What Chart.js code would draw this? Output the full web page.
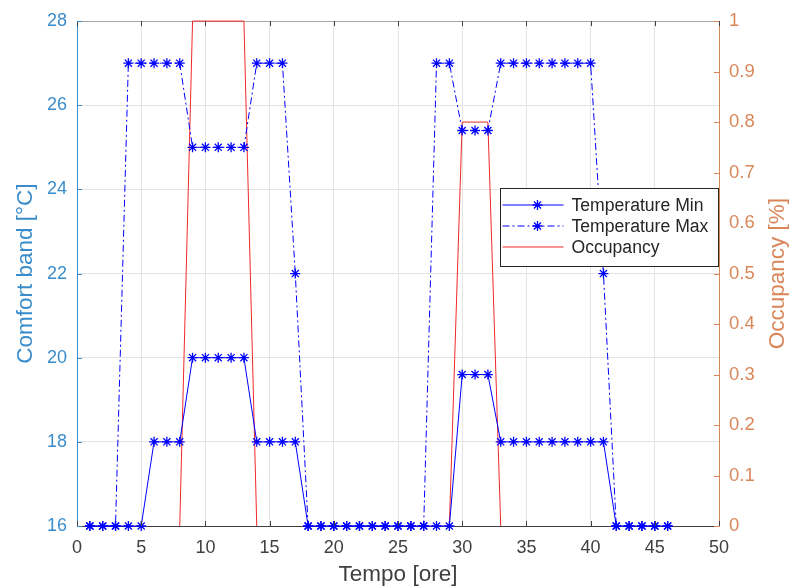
<!DOCTYPE html>
<html>
<head>
<meta charset="utf-8">
<title>Comfort band</title>
<script src="https://cdn.jsdelivr.net/npm/chart.js@4.4.1/dist/chart.umd.min.js"></script>
<style>
  html, body { margin: 0; padding: 0; background: #fff; }
  #wrap { width: 798px; height: 588px; }
</style>
</head>
<body>
<div id="wrap"><canvas id="chart" width="798" height="588"></canvas></div>
<script>
// hourly comfort band set points and occupancy
const hours = [1, 2, 3, 4, 5, 6, 7, 8, 9, 10, 11, 12, 13, 14, 15, 16, 17, 18, 19, 20, 21, 22, 23,
               24, 25, 26, 27, 28, 29, 30, 31, 32, 33, 34, 35, 36, 37, 38, 39, 40, 41, 42, 43, 44, 45, 46];
const tempMin = [16, 16, 16, 16, 16, 18, 18, 18, 20, 20, 20, 20, 20, 18, 18, 18, 18, 16, 16, 16, 16, 16, 16,
                 16, 16, 16, 16, 16, 16, 19.6, 19.6, 19.6, 18, 18, 18, 18, 18, 18, 18, 18, 18, 16, 16, 16, 16, 16];
const tempMax = [16, 16, 16, 27, 27, 27, 27, 27, 25, 25, 25, 25, 25, 27, 27, 27, 22, 16, 16, 16, 16, 16, 16,
                 16, 16, 16, 16, 27, 27, 25.4, 25.4, 25.4, 27, 27, 27, 27, 27, 27, 27, 27, 22, 16, 16, 16, 16, 16];
// occupancy only plotted around the occupied periods
const occupancy = [null, null, null, null, null, null, null, 0, 1, 1, 1, 1, 1, 0, null, null, null, null, null, null, null,
                   null, null, null, null, null, null, null, 0, 0.8, 0.8, 0.8, 0, null, null, null, null, null, null,
                   null, null, null, null, null, null, null];

const xTicks = [0, 5, 10, 15, 20, 25, 30, 35, 40, 45, 50];
const leftTicks = [16, 18, 20, 22, 24, 26, 28];
const rightTicks = [0, 0.1, 0.2, 0.3, 0.4, 0.5, 0.6, 0.7, 0.8, 0.9, 1];

const seriesNames = ['Temperature Min', 'Temperature Max', 'Occupancy'];
const xTitle = 'Tempo [ore]';
const leftTitle = 'Comfort band [°C]';
const rightTitle = 'Occupancy [%]';

const FONT = '"Liberation Sans", Arial, Helvetica, sans-serif';
const LEFT_COL = '#3a8dca';
const RIGHT_COL = '#d9875a';
const AXIS_COL = '#404040';
const GRID_COL = '#e4e4e4';
const BLUE = '#0000ff';
const RED = '#f02828';

// line look per series, shared by the datasets and the legend box
const styles = [
  { color: BLUE, dash: [], marker: true },
  { color: BLUE, dash: [7, 3, 2, 3], marker: true },
  { color: RED, dash: [], marker: false }
];
const MARKER_R = 5;

function points(vals) {
  return hours.map((h, i) => ({ x: h, y: vals[i] }));
}

function star(ctx, x, y, r) {
  const d = r * Math.SQRT1_2;
  ctx.beginPath();
  ctx.moveTo(x - r, y); ctx.lineTo(x + r, y);
  ctx.moveTo(x, y - r); ctx.lineTo(x, y + r);
  ctx.moveTo(x - d, y - d); ctx.lineTo(x + d, y + d);
  ctx.moveTo(x - d, y + d); ctx.lineTo(x + d, y - d);
  ctx.stroke();
}

// inward ticks, legend box and the right-hand title (reads bottom to top)
const matlabFrame = {
  id: 'matlabFrame',
  afterDraw(chart) {
    const ctx = chart.ctx;
    const a = chart.chartArea;
    const { x, y, y2 } = chart.scales;
    ctx.save();
    ctx.lineWidth = 1;

    ctx.strokeStyle = AXIS_COL;
    xTicks.forEach(v => {
      const px = Math.round(x.getPixelForValue(v)) + 0.5;
      ctx.beginPath();
      ctx.moveTo(px, a.bottom); ctx.lineTo(px, a.bottom - 5);
      ctx.moveTo(px, a.top); ctx.lineTo(px, a.top + 5);
      ctx.stroke();
    });
    ctx.strokeStyle = LEFT_COL;
    leftTicks.forEach(v => {
      const py = Math.round(y.getPixelForValue(v)) + 0.5;
      ctx.beginPath(); ctx.moveTo(a.left, py); ctx.lineTo(a.left + 5, py); ctx.stroke();
    });
    ctx.strokeStyle = RIGHT_COL;
    rightTicks.forEach(v => {
      const py = Math.round(y2.getPixelForValue(v)) + 0.5;
      ctx.beginPath(); ctx.moveTo(a.right, py); ctx.lineTo(a.right - 5, py); ctx.stroke();
    });

    // legend
    const bw = 218, bh = 78;
    const bx = Math.round(a.right - bw - 1) + 0.5;
    const by = Math.round(a.top + 167) + 0.5;
    ctx.fillStyle = '#fff';
    ctx.fillRect(bx, by, bw, bh);
    ctx.strokeStyle = '#262626';
    ctx.strokeRect(bx, by, bw, bh);
    ctx.font = '17.6px ' + FONT;
    ctx.textBaseline = 'middle';
    seriesNames.forEach((name, i) => {
      const st = styles[i];
      const ry = by + 16.5 + i * 21;
      ctx.strokeStyle = st.color;
      ctx.lineWidth = 1;
      ctx.setLineDash(st.dash);
      ctx.beginPath(); ctx.moveTo(bx + 2, ry); ctx.lineTo(bx + 63, ry); ctx.stroke();
      ctx.setLineDash([]);
      if (st.marker) {
        ctx.lineWidth = 1.3;
        star(ctx, bx + 37, ry, MARKER_R);
      }
      ctx.fillStyle = '#262626';
      ctx.fillText(name, bx + 71, ry + 1);
    });

    ctx.translate(778, (a.top + a.bottom) / 2);
    ctx.rotate(-Math.PI / 2);
    ctx.font = '22.5px ' + FONT;
    ctx.fillStyle = RIGHT_COL;
    ctx.textAlign = 'center';
    ctx.textBaseline = 'middle';
    ctx.fillText(rightTitle, 0, 0);
    ctx.restore();
  }
};

const temp = (i, vals) => ({
  label: seriesNames[i],
  data: points(vals),
  yAxisID: 'y',
  borderColor: styles[i].color,
  borderWidth: 1,
  borderDash: styles[i].dash,
  pointStyle: 'star',
  pointRadius: MARKER_R,
  pointBorderColor: styles[i].color,
  pointBorderWidth: 1.3,
  clip: false
});

new Chart(document.getElementById('chart'), {
  type: 'line',
  data: {
    datasets: [
      temp(0, tempMin),
      temp(1, tempMax),
      {
        label: seriesNames[2],
        data: points(occupancy),
        yAxisID: 'y2',
        borderColor: styles[2].color,
        borderWidth: 1,
        pointRadius: 0,
        spanGaps: false,
        clip: false
      }
    ]
  },
  options: {
    responsive: false,
    animation: false,
    devicePixelRatio: 1,
    layout: { padding: { top: 17, left: 0, right: 0, bottom: 0 } },
    plugins: { legend: { display: false }, tooltip: { enabled: false } },
    scales: {
      x: {
        type: 'linear',
        min: 0,
        max: 50,
        afterBuildTicks: s => { s.ticks = xTicks.map(v => ({ value: v })); },
        afterFit: s => { s.height = 62; },
        grid: {
          drawTicks: false,
          color: c => (c.tick && (c.tick.value === 0 || c.tick.value === 50)) ? 'rgba(0,0,0,0)' : GRID_COL
        },
        border: { color: AXIS_COL },
        ticks: { color: AXIS_COL, padding: 11, maxRotation: 0, font: { family: FONT, size: 18 } },
        title: { display: true, text: xTitle, color: AXIS_COL, padding: 0, font: { family: FONT, size: 22.5 } }
      },
      y: {
        position: 'left',
        min: 16,
        max: 28,
        afterBuildTicks: s => { s.ticks = leftTicks.map(v => ({ value: v })); },
        afterFit: s => { s.width = 77; },
        grid: {
          drawTicks: false,
          color: c => {
            if (!c.tick) return GRID_COL;
            if (c.tick.value === 16) return 'rgba(0,0,0,0)';
            if (c.tick.value === 28) return '#a6a6a6';
            return GRID_COL;
          }
        },
        border: { color: LEFT_COL },
        ticks: { color: LEFT_COL, padding: 10, font: { family: FONT, size: 18 } },
        title: { display: true, text: leftTitle, color: LEFT_COL, padding: 12, font: { family: FONT, size: 22.5 } }
      },
      y2: {
        position: 'right',
        min: 0,
        max: 1,
        afterBuildTicks: s => { s.ticks = rightTicks.map(v => ({ value: v })); },
        afterFit: s => { s.width = 79; },
        grid: { drawOnChartArea: false, drawTicks: false },
        border: { color: RIGHT_COL },
        ticks: {
          color: RIGHT_COL,
          padding: 10,
          font: { family: FONT, size: 18.5 },
          callback: v => String(v)
        }
      }
    }
  },
  plugins: [matlabFrame]
});
</script>
</body>
</html>
